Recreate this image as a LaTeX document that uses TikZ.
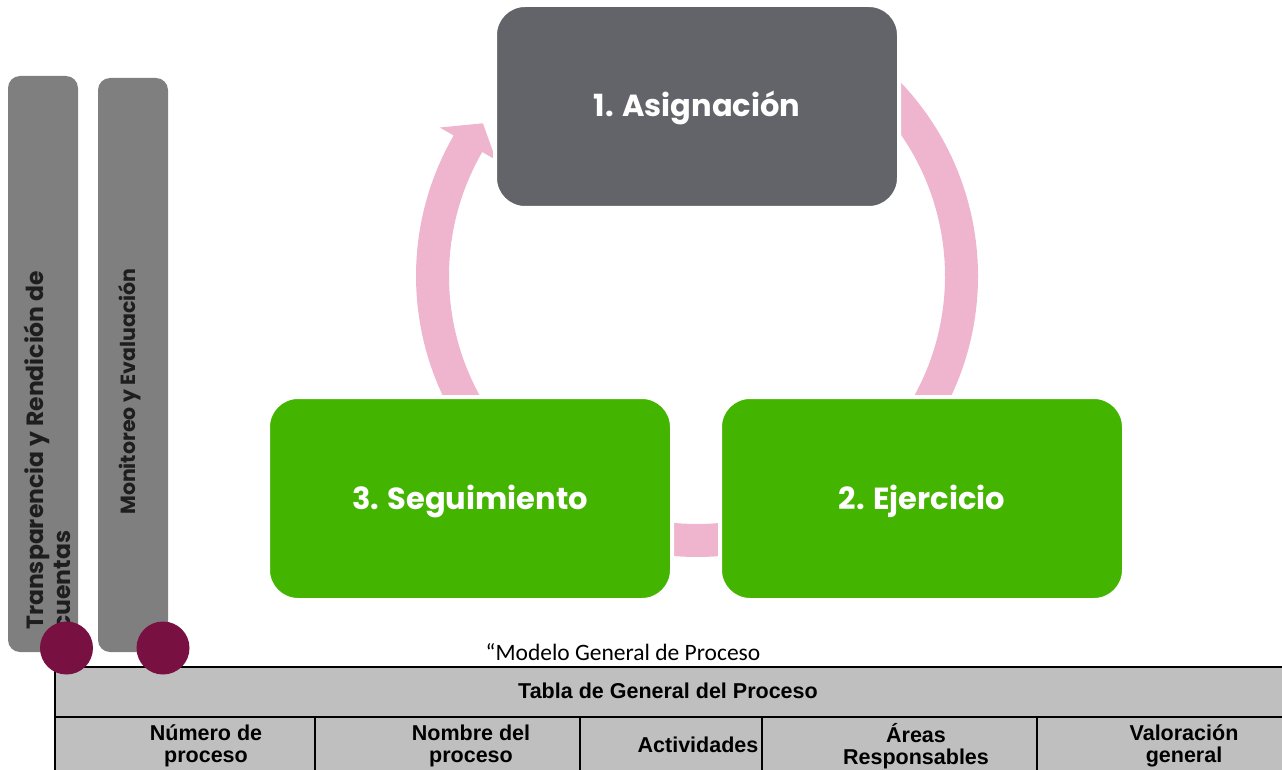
\documentclass[tikz,border=0pt]{standalone}
\usepackage{fontspec}
\setmainfont{Poppins}
\newfontfamily\arialf{Liberation Sans}
\newfontfamily\calf{Carlito}
\usetikzlibrary{calc}
\definecolor{boxgray}{RGB}{99,100,105}
\definecolor{boxgreen}{RGB}{67,181,0}
\definecolor{arcpink}{RGB}{239,181,206}
\definecolor{bargray}{RGB}{127,127,127}
\definecolor{dotred}{RGB}{120,16,66}
\definecolor{tabgray}{RGB}{191,191,191}
\definecolor{bartext}{RGB}{30,30,30}
\begin{document}
\begin{tikzpicture}[x=1pt,y=-1pt,
  stepbox/.style={draw=white,line width=4pt,rounded corners=30pt,inner sep=0pt,
    minimum width=404pt,minimum height=203pt,text=white,text height=21pt,text depth=0pt,
    font=\bfseries\fontsize{30.5}{36}\selectfont},
  sidebar/.style={fill=bargray,rounded corners=12pt,inner sep=0pt,minimum width=70pt},
  bartxt/.style={text=bartext,inner sep=0pt,anchor=base west,rotate=90},
  dot/.style={circle,fill=dotred,inner sep=0pt,minimum size=53pt},
  ring/.style={fill=arcpink},
  tabtxt/.style={inner sep=0pt,align=center,font=\arialf\bfseries\fontsize{21.5}{22}\selectfont},
  tabline/.style={draw=black,line width=1.3pt}]
\useasboundingbox (0,0) rectangle (1282,770);
\clip (0,0) rectangle (1282,770);
\coordinate (C) at (697,276);
% ring arcs
\fill[ring] ($(C)+(-50:281)$) arc[start angle=-50,end angle=40,radius=281]
  -- ($(C)+(40:248)$) arc[start angle=40,end angle=-50,radius=248] -- cycle;
\fill[ring] ($(C)+(75:281)$) arc[start angle=75,end angle=105,radius=281]
  -- ($(C)+(105:248)$) arc[start angle=105,end angle=75,radius=248] -- cycle;
\fill[ring] ($(C)+(140:281)$) arc[start angle=140,end angle=210,radius=281]
  -- ($(C)+(210:297)$) -- ($(C)+(215.5:263)$) -- ($(C)+(210:232)$)
  -- ($(C)+(210:248)$) arc[start angle=210,end angle=140,radius=248] -- cycle;
% process boxes
\node[stepbox,fill=boxgray] (b1) at (697,106.5) {1. Asignación};
\node[stepbox,fill=boxgreen] (b3) at (470,498.5) {3. Seguimiento};
\node[stepbox,fill=boxgreen] (b2) at (922,498.5) {2. Ejercicio};
% side bars
\node[sidebar,minimum height=576pt] (s1) at (43,364) {};
\node[sidebar,minimum height=574pt] (s2) at (133,365) {};
\node[bartxt,font=\bfseries\fontsize{23.5}{28}\selectfont] (t1a) at (43,630) {Transparencia y Rendición de};
\node[bartxt,font=\bfseries\fontsize{23.5}{28}\selectfont] (t1b) at (70,630) {cuentas};
\node[bartxt,font=\bfseries\fontsize{20.5}{25}\selectfont] (t2) at (135,515) {Monitoreo y Evaluación};
% caption
\node[anchor=base,inner sep=0pt,font=\calf\fontsize{23.5}{28}\selectfont] (cap) at (623,660) {“Modelo General de Proceso};
% table
\fill[tabgray] (55,667) rectangle (1300,790);
\draw[tabline] (1300,667) -- (55,667) -- (55,790);
\draw[tabline] (55,717) -- (1300,717);
\foreach \xx in {315,580,762,1037} \draw[tabline] (\xx,717) -- (\xx,790);
\node[tabtxt,anchor=base] (tt) at (668,698) {Tabla de General del Proceso};
\node[tabtxt] (h1) at (206,746) {Número de\\proceso};
\node[tabtxt] (h2) at (471,746) {Nombre del\\proceso};
\node[tabtxt,anchor=base] (h3) at (698,752.5) {Actividades};
\node[tabtxt] (h4) at (916,746) {Áreas\\Responsables};
\node[tabtxt] (h5) at (1184,746) {Valoración\\general};
% dots
\node[dot] (d1) at (66.5,648) {};
\node[dot] (d2) at (163,648) {};
\end{tikzpicture}
\end{document}
